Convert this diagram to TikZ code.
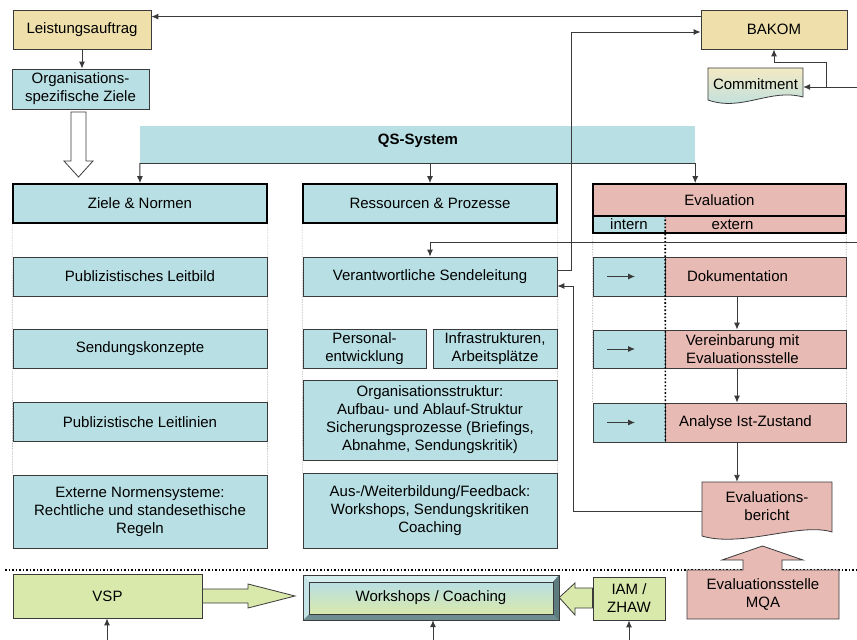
\documentclass[tikz,border=0pt]{standalone}
\usepackage{fontspec}
\setmainfont{Liberation Sans}
\usetikzlibrary{arrows.meta,calc,positioning,backgrounds}
\definecolor{qscyan}{HTML}{B8DFE3}
\definecolor{sand}{HTML}{EEDFAB}
\definecolor{commityellow}{HTML}{F3E9C4}
\definecolor{evalpink}{HTML}{E8BAB4}
\definecolor{lightgreen}{HTML}{D9E9AC}
\definecolor{boxline}{HTML}{3A3A3A}
\definecolor{bevellight}{HTML}{D6EEF0}
\definecolor{bevelmid}{HTML}{C4E4E7}
\definecolor{beveldark}{HTML}{6F8E91}
\definecolor{bevelshadow}{HTML}{5E7C7F}

\begin{document}
\begin{tikzpicture}[x=1pt,y=-1pt,
  font=\fontsize{15}{18}\selectfont,
  >={Latex[length=7pt,width=6pt]},
  box/.style={draw=boxline,fill=qscyan,line width=0.8pt,minimum height=39pt,inner sep=1pt,align=center},
  headbox/.style={box,draw=black,line width=1.8pt},
  sandbox/.style={box,fill=sand},
  greenbox/.style={box,fill=lightgreen},
  pinkbox/.style={box,fill=evalpink},
  conn/.style={->,boxline,line width=0.9pt},
  colline/.style={gray!80,densely dotted,line width=0.6pt},
  blockarrow/.style={draw=boxline,line width=0.8pt}]
  \useasboundingbox (0,0) rectangle (857,640);

  % auftrag and regulator
  \node[sandbox,minimum width=138pt] (auftrag) at (82,29.5) {Leistungsauftrag};
  \node[box,minimum width=137pt,minimum height=40pt] (orgziele) at (80.5,89) {Organisations-\\spezifische Ziele};
  \node[sandbox,minimum width=146pt] (bakom) at (774,29.5) {BAKOM};
  \draw[draw=boxline,line width=0.8pt,top color=commityellow,bottom color=qscyan]
    (708,68) -- (803,68) -- (803,97) .. controls (770,88) and (742,112) .. (708,100) -- cycle;
  \node[minimum width=95pt,minimum height=30pt] (commit) at (755.5,84) {Commitment};

  \draw[conn] ([yshift=-7pt]bakom.north west) -- ([yshift=-7pt]auftrag.north east);
  \draw[conn] (auftrag.south) -- (auftrag.south |- orgziele.north);
  \coordinate (rin1) at (857,87);
  \draw[conn] (rin1) -- (rin1 -| commit.east);
  \draw[conn] ($(rin1)+(-31,0)$) |- ($(bakom.south)+(0,13)$) -- (bakom.south);

  % hollow arrow down to the goals
  \draw[blockarrow,fill=white] (71,112) -- (86,112) -- (86,161) -- (93,161) -- (78.5,177)
    -- (64,161) -- (71,161) -- cycle;

  % QS bar
  \node[fill=qscyan,minimum width=555pt,minimum height=37pt] (qs) at (417.5,144.5) {};
  \node[font=\fontsize{15}{18}\selectfont\bfseries] (qstext) at (418,141) {QS-System};
  \draw[boxline,line width=0.8pt] (qs.south west) -- (qs.south east);

  % column heads
  \node[headbox,minimum width=254pt] (ziele) at (140,203.5) {Ziele \& Normen};
  \node[headbox,minimum width=254pt] (res) at (430,203.5) {Ressourcen \& Prozesse};
  \node[headbox,fill=evalpink,minimum width=253pt,minimum height=32pt] (eval) at (719.5,200) {Evaluation};
  \node[fill=qscyan,minimum width=72pt,minimum height=17pt,inner sep=0pt] (intern) at (629,224.5) {intern};
  \node[fill=evalpink,minimum width=181pt,minimum height=17pt,inner sep=0pt,
    label={[xshift=-23pt,inner sep=0pt]center:extern}] (extern) at (755.5,224.5) {};
  \draw[black,line width=1.8pt] (intern.north west) rectangle (extern.south east);

  \draw[conn] (qs.south west) -- (ziele.north);
  \draw[conn] (qs.south -| res.north) -- (res.north);
  \draw[conn] (qs.south east) -- (qs.south east |- eval.north);

  % goals and norms
  \node[box,minimum width=254pt] (leitbild) at (140,276.5) {Publizistisches Leitbild};
  \node[box,minimum width=254pt] (konzepte) at (140,349) {Sendungskonzepte};
  \node[box,minimum width=254pt] (leitlinien) at (140,422) {Publizistische Leitlinien};
  \node[box,minimum width=254pt,minimum height=73pt] (normen) at (140,511.5)
    {Externe Normensysteme:\\Rechtliche und standesethische\\Regeln};

  % resources and processes
  \node[box,minimum width=254pt] (sende) at (430,276.5) {Verantwortliche Sendeleitung};
  \node[box,minimum width=123pt] (personal) at (364.5,348.5) {Personal-\\entwicklung};
  \node[box,minimum width=124pt] (infra) at (495,348.5) {Infrastrukturen,\\Arbeitsplätze};
  \node[box,minimum width=254pt,minimum height=80pt] (orgstruktur) at (430,420)
    {Organisationsstruktur:\\Aufbau- und Ablauf-Struktur\\Sicherungsprozesse (Briefings,\\Abnahme, Sendungskritik)};
  \node[box,minimum width=254pt,minimum height=75pt] (weiterbildung) at (430,510.5)
    {Aus-/Weiterbildung/Feedback:\\Workshops, Sendungskritiken\\Coaching};

  % evaluation steps
  \foreach \name/\y/\h/\txt/\dx in {doku/276.5/39pt/Dokumentation/-18pt,
      verein/349/38pt/{Vereinbarung mit\\Evaluationsstelle}/-13pt,
      analyse/422.5/39pt/Analyse Ist-Zustand/-10pt} {
    \node[box,minimum width=72pt,minimum height=\h] (\name-int) at (629,\y) {};
    \node[pinkbox,minimum width=181pt,minimum height=\h,
      label={[xshift=\dx,align=center]center:\txt}] (\name) at (755.5,\y) {};
    \draw[conn] ([xshift=-22pt]\name-int.center) -- ([xshift=6pt]\name-int.center);
  }
  \draw[black,line width=1.6pt,dotted] (intern.north east) -- (analyse-int.south east);
  \draw[conn] ([xshift=-18.5pt]doku.south) -- ([xshift=-18.5pt]verein.north);
  \draw[conn] ([xshift=-18.5pt]verein.south) -- ([xshift=-18.5pt]analyse.north);

  \draw[blockarrow,fill=evalpink] (702,482) -- (832,482) -- (832,532)
    .. controls (800,522) and (742,548) .. (702,536) -- cycle;
  \node[minimum width=130pt,minimum height=48pt,align=center] (bericht) at (767,506) {Evaluations-\\bericht};
  \draw[conn] ([xshift=-18.5pt]analyse.south) -- ([xshift=-18.5pt]analyse.south |- bericht.north);

  % feedback lines
  \draw[conn] ([yshift=-5pt]bericht.west) -| ($(sende.east)+(16,9.5)$) -- ([yshift=-9.5pt]sende.east);
  \draw[conn] ([yshift=6.5pt]sende.east) -| ([xshift=-129pt,yshift=-2.5pt]bakom.west) -- ([yshift=-2.5pt]bakom.west);
  \coordinate (rin2) at (857,242);
  \draw[conn] (rin2) -| (sende.north);

  \begin{scope}[on background layer]
    \foreach \top/\bot in {ziele/normen,res/weiterbildung} {
      \draw[colline] (\top.south west) -- (\bot.north west);
      \draw[colline] (\top.south east) -- (\bot.north east);
    }
    \draw[colline] (intern.south west) -- (analyse-int.north west);
    \draw[colline] (extern.south east) -- (analyse.north east);
  \end{scope}

  % external partners
  \draw[black,line width=1.5pt,dotted] (5,570) -- (857,570);
  \node[greenbox,minimum width=189pt,minimum height=44pt] (vsp) at (107.5,596) {VSP};
  \draw[blockarrow,fill=lightgreen] (vsp.east |- 0,589) -- (248,589) -- (248,584) -- (295,596)
    -- (248,608) -- (248,603) -- (vsp.east |- 0,603) -- cycle;

  \fill[beveldark] (303,575) rectangle (559,620);
  \fill[bevellight] (303,575) -- (559,575) -- (553,582) -- (309,582) -- cycle;
  \fill[bevelmid] (303,575) -- (309,582) -- (309,614) -- (303,620) -- cycle;
  \fill[bevelshadow] (559,575) -- (559,620) -- (553,614) -- (553,582) -- cycle;
  \shade[top color=qscyan,bottom color=lightgreen] (309,582) rectangle (553,614);
  \draw[boxline,line width=0.8pt] (303,575) rectangle (559,620);
  \draw[boxline,line width=0.5pt] (309,582) rectangle (553,614);
  \node[minimum width=256pt,minimum height=45pt] (ws) at (431,597.5) {Workshops / Coaching};

  \node[greenbox,minimum width=72pt,minimum height=43pt] (iam) at (629,598.5) {IAM /\\ZHAW};
  \draw[blockarrow,fill=lightgreen] (iam.west |- 0,588) -- (575,588) -- (575,583) -- (ws.east)
    -- (575,615) -- (575,608) -- (iam.west |- 0,608) -- cycle;

  \draw[blockarrow,fill=evalpink] (687,570) -- (743,570) -- (743,560) -- (722,560) -- (762.5,546)
    -- (803,560) -- (782,560) -- (782,570) -- (839,570) -- (839,619) -- (687,619) -- cycle;
  \node[align=center] (mqa) at (763,594.5) {Evaluationsstelle\\MQA};

  \coordinate (in1) at (107,640);
  \coordinate (in2) at (433,640);
  \coordinate (in3) at (629,640);
  \draw[conn] (in1) -- (in1 |- vsp.south);
  \draw[conn] (in2) -- (in2 |- ws.south);
  \draw[conn] (in3) -- (in3 |- iam.south);
\end{tikzpicture}
\end{document}
